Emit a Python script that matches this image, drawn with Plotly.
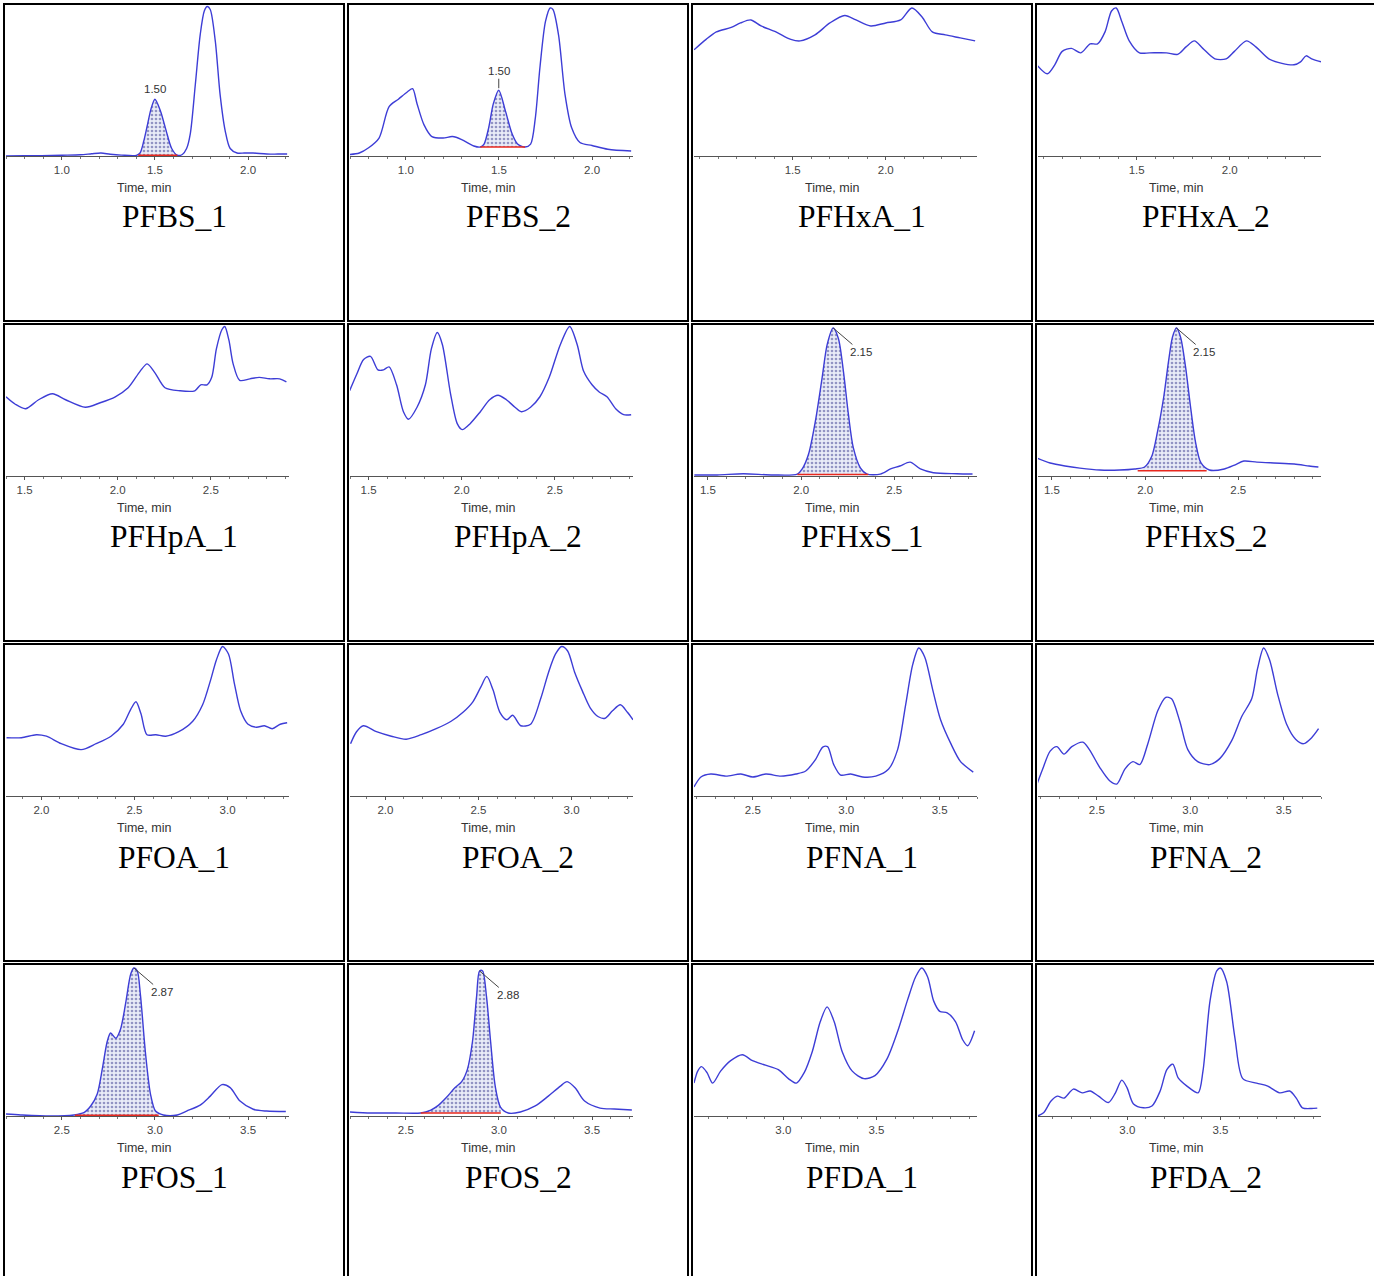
import numpy as np
import plotly.graph_objects as go

W, H = 1374, 1276

names = ["PFBS_1", "PFBS_2", "PFHxA_1", "PFHxA_2",
         "PFHpA_1", "PFHpA_2", "PFHxS_1", "PFHxS_2",
         "PFOA_1", "PFOA_2", "PFNA_1", "PFNA_2",
         "PFOS_1", "PFOS_2", "PFDA_1", "PFDA_2"]

# ---- chromatogram traces (time in min, relative intensity %) ----
pfbs_1_t = [0.70, 0.80, 0.89, 1.00, 1.10, 1.16, 1.21, 1.26, 1.32, 1.40, 1.42, 1.44, 1.46, 1.48, 1.50, 1.53, 1.56, 1.59, 1.62,
            1.647, 1.67, 1.69, 1.717, 1.743, 1.765, 1.781, 1.797, 1.824, 1.85, 1.877, 1.904, 1.941, 1.98, 2.027, 2.10, 2.16, 2.21]
pfbs_1_i = [0, 0.2, 0.2, 0.5, 0.8, 1.5, 2.0, 1.2, 0.6, 0.4, 2, 10, 21, 32, 38, 30, 17, 5, 0.5,
            1, 5, 15, 48, 81, 97, 100, 98, 77, 41, 17, 5, 2, 2, 2, 1.3, 1.3, 1.3]

pfbs_2_t = [0.697, 0.75, 0.80, 0.856, 0.91, 0.96, 1.009, 1.036, 1.06, 1.097, 1.14, 1.20, 1.25, 1.30, 1.365, 1.40, 1.42, 1.445,
            1.47, 1.499, 1.535, 1.57, 1.60, 1.64, 1.67, 1.695, 1.72, 1.75, 1.775, 1.79, 1.82, 1.855, 1.89, 1.935, 2.0, 2.085, 2.21]
pfbs_2_i = [1, 2, 5.5, 12, 33, 38, 43, 45, 35, 21, 13, 12, 13, 11, 6.7, 6, 8, 19,
            35, 44, 30, 15, 8, 6, 8, 25, 59, 90, 99, 98, 81, 41, 19, 9, 7, 4.5, 3.3]

pfhxa_1_t = [0.97, 1.035, 1.09, 1.17, 1.22, 1.275, 1.33, 1.41, 1.49, 1.54, 1.62, 1.70, 1.78, 1.84, 1.92, 2.0, 2.08, 2.14,
             2.195, 2.25, 2.32, 2.40, 2.48]
pfhxa_1_i = [71, 78, 83, 86, 89, 91, 87, 83, 78, 77, 81, 89, 94, 91, 87, 89, 91, 99,
             93, 83, 81, 79, 77]

pfhxa_2_t = [0.963, 1.02, 1.06, 1.10, 1.15, 1.20, 1.25, 1.29, 1.33, 1.365, 1.39, 1.42, 1.46, 1.515, 1.57, 1.66, 1.72,
             1.765, 1.81, 1.855, 1.92, 1.98, 2.025, 2.09, 2.14, 2.21, 2.28, 2.345, 2.38, 2.41, 2.44, 2.49]
pfhxa_2_i = [61, 55, 61, 70, 72, 69, 75, 75, 83, 97, 99, 90, 77, 69, 69, 69, 68,
             73, 77, 72, 65, 65, 70, 77, 73, 65, 62, 61, 63, 67, 65, 63]

pfhpa_1_t = [1.40, 1.45, 1.505, 1.575, 1.65, 1.72, 1.826, 1.906, 1.987, 2.056, 2.12, 2.158, 2.20, 2.254, 2.334, 2.414,
             2.446, 2.48, 2.505, 2.53, 2.56, 2.575, 2.597, 2.62, 2.655, 2.71, 2.76, 2.815, 2.87, 2.906]
pfhpa_1_i = [53, 48, 45, 51, 55, 51, 46, 49, 53, 59, 70, 75, 69, 59, 57, 57,
             61, 61, 66, 85, 98, 100, 91, 75, 64, 65, 66, 65, 65, 63]

pfhpa_2_t = [1.398, 1.436, 1.473, 1.51, 1.55, 1.58, 1.61, 1.65, 1.687, 1.714, 1.76, 1.805, 1.837, 1.869, 1.896, 1.94,
             1.976, 2.003, 2.045, 2.10, 2.15, 2.195, 2.24, 2.286, 2.32, 2.37, 2.42, 2.47, 2.53, 2.58, 2.62, 2.655,
             2.70, 2.74, 2.78, 2.827, 2.87, 2.91]
pfhpa_2_i = [57, 68, 78, 80, 71, 71, 73, 61, 43, 38, 46, 61, 85, 96, 88, 55,
             35, 31, 35, 43, 51, 54, 51, 46, 43, 46, 53, 66, 88, 100, 88, 70,
             61, 56, 53, 45, 41, 41]

pfhxs_1_t = [1.427, 1.55, 1.69, 1.85, 1.98, 2.006, 2.04, 2.077, 2.113, 2.14, 2.172, 2.20, 2.227, 2.254, 2.28, 2.318,
             2.354, 2.425, 2.48, 2.53, 2.585, 2.64, 2.71, 2.835, 2.92]
pfhxs_1_i = [0.7, 0.7, 1.5, 0.7, 1.3, 4.7, 14.7, 37, 66, 88, 99, 92, 70, 41, 19, 5.5,
             1.3, 1.3, 4.7, 6.7, 9.3, 4.7, 2.2, 1.5, 1.3]

pfhxs_2_t = [1.42, 1.49, 1.57, 1.65, 1.757, 1.864, 1.944, 1.997, 2.035, 2.067, 2.10, 2.126, 2.147, 2.168, 2.19, 2.217,
             2.243, 2.27, 2.30, 2.345, 2.425, 2.48, 2.53, 2.60, 2.69, 2.80, 2.88, 2.93]
pfhxs_2_i = [12, 8.7, 6.7, 5.3, 4, 4, 4.7, 6, 13, 30, 53, 77, 93, 99, 93, 73,
             47, 23, 8.7, 4, 4.7, 7.3, 10, 9.3, 8.7, 8, 6.7, 6]

pfoa_1_t = [1.813, 1.893, 1.973, 2.027, 2.107, 2.214, 2.294, 2.374, 2.44, 2.48, 2.508, 2.535, 2.567, 2.615, 2.668, 2.738,
            2.813, 2.866, 2.91, 2.94, 2.973, 3.005, 3.037, 3.07, 3.11, 3.155, 3.198, 3.24, 3.283, 3.32]
pfoa_1_i = [39, 39, 41, 40, 35, 31, 35, 40, 48, 58, 63, 55, 41, 41, 40, 43,
            50, 61, 78, 91, 100, 95, 75, 57, 48, 46, 47, 45, 48, 49]

pfoa_2_t = [1.813, 1.845, 1.882, 1.952, 2.032, 2.112, 2.193, 2.273, 2.353, 2.417, 2.47, 2.513, 2.545, 2.578, 2.615, 2.652,
            2.684, 2.727, 2.78, 2.834, 2.877, 2.914, 2.947, 2.979, 3.016, 3.059, 3.10, 3.144, 3.18, 3.22, 3.262, 3.30, 3.33]
pfoa_2_i = [35, 43, 47, 43, 40, 38, 41, 45, 50, 56, 63, 73, 80, 71, 56, 51,
            54, 47, 48, 65, 83, 95, 100, 97, 83, 70, 59, 53, 52, 57, 61, 56, 51]

pfna_1_t = [2.185, 2.222, 2.275, 2.356, 2.436, 2.50, 2.57, 2.65, 2.73, 2.783, 2.837, 2.874, 2.90, 2.933, 2.97, 3.024,
            3.088, 3.158, 3.227, 3.275, 3.318, 3.356, 3.388, 3.42, 3.463, 3.505, 3.56, 3.612, 3.68]
pfna_1_i = [6, 12.7, 14.7, 13.3, 14.7, 12.7, 14.7, 13.3, 14.7, 16.7, 24.7, 32.7, 33, 21, 14, 14.7,
            12.7, 13.3, 18, 31, 61, 88, 99, 93, 71, 51, 35, 23, 16]

pfna_2_t = [2.18, 2.21, 2.25, 2.286, 2.324, 2.366, 2.425, 2.46, 2.516, 2.57, 2.607, 2.65, 2.693, 2.73, 2.773, 2.826,
            2.869, 2.90, 2.944, 2.987, 3.04, 3.104, 3.158, 3.222, 3.275, 3.329, 3.36, 3.393, 3.425, 3.468, 3.516,
            3.564, 3.607, 3.65, 3.687]
pfna_2_i = [8, 18, 30, 33, 28, 33, 36, 31, 19, 10, 8, 18, 23, 21, 35, 57,
            66, 65, 50, 31, 23, 21, 25, 37, 53, 65, 85, 99, 91, 68, 48,
            38, 35, 39, 45]

pfos_1_t = [2.20, 2.28, 2.44, 2.565, 2.618, 2.655, 2.69, 2.718, 2.744, 2.762, 2.79, 2.815, 2.842, 2.87, 2.887, 2.905,
            2.922, 2.95, 2.976, 3.003, 3.045, 3.12, 3.17, 3.243, 3.297, 3.36, 3.404, 3.457, 3.528, 3.60, 3.703]
pfos_1_i = [1.3, 0.7, 0, 0.7, 2.2, 6.7, 14.7, 32, 50, 55.5, 52, 58, 75, 95, 99, 97,
            81, 41, 14.7, 3.3, 0.7, 0.7, 3.3, 7.3, 13.3, 21, 19, 10, 4.5, 3.3, 3]

pfos_2_t = [2.20, 2.313, 2.447, 2.58, 2.634, 2.676, 2.72, 2.762, 2.80, 2.83, 2.858, 2.88, 2.896, 2.912, 2.933, 2.955,
            2.98, 3.008, 3.05, 3.115, 3.195, 3.265, 3.33, 3.366, 3.41, 3.46, 3.543, 3.62, 3.714]
pfos_2_i = [2.7, 2, 2, 2, 4, 7.3, 12.7, 18.7, 23, 31, 50, 80, 97, 97, 80, 50,
            20, 6, 2, 2.7, 6.7, 13.3, 20, 23, 18.7, 10, 5.3, 4.7, 4]

pfda_1_t = [2.52, 2.54, 2.56, 2.59, 2.62, 2.663, 2.717, 2.78, 2.834, 2.904, 2.973, 3.027, 3.07, 3.112, 3.155, 3.198,
            3.235, 3.273, 3.316, 3.37, 3.433, 3.492, 3.556, 3.615, 3.668, 3.71, 3.743, 3.775, 3.807, 3.84, 3.88,
            3.925, 3.963, 3.99, 4.027]
pfda_1_i = [22, 30, 33, 29, 22, 30, 37, 41, 37, 34, 31, 25, 22, 29, 43, 63,
            73, 63, 43, 30, 25, 27, 38, 57, 78, 93, 99, 93, 77, 70, 69,
            63, 51, 47, 57]

pfda_2_t = [2.517, 2.55, 2.59, 2.624, 2.66, 2.71, 2.758, 2.80, 2.845, 2.898, 2.936, 2.97, 2.998, 3.033, 3.086, 3.132,
            3.176, 3.212, 3.244, 3.273, 3.32, 3.38, 3.406, 3.444, 3.48, 3.50, 3.533, 3.578, 3.62, 3.694, 3.754,
            3.818, 3.872, 3.907, 3.94, 3.988, 4.02]
pfda_2_i = [0, 2.2, 10, 13.3, 12, 18, 15.5, 16.7, 13.3, 9, 15.5, 24, 19, 8, 5.5, 6.7,
            16.7, 31, 34.7, 25.5, 20, 15.5, 30, 77, 97, 99, 90, 52, 25, 22, 20,
            15.5, 16.7, 12, 5.5, 5, 5.3]

series_t = [pfbs_1_t, pfbs_2_t, pfhxa_1_t, pfhxa_2_t, pfhpa_1_t, pfhpa_2_t, pfhxs_1_t, pfhxs_2_t,
            pfoa_1_t, pfoa_2_t, pfna_1_t, pfna_2_t, pfos_1_t, pfos_2_t, pfda_1_t, pfda_2_t]
series_i = [pfbs_1_i, pfbs_2_i, pfhxa_1_i, pfhxa_2_i, pfhpa_1_i, pfhpa_2_i, pfhxs_1_i, pfhxs_2_i,
            pfoa_1_i, pfoa_2_i, pfna_1_i, pfna_2_i, pfos_1_i, pfos_2_i, pfda_1_i, pfda_2_i]

# x-axis ranges (min) of each panel
x_ranges = [[0.70, 2.22], [0.70, 2.22], [0.97, 2.49], [0.97, 2.49],
            [1.40, 2.92], [1.40, 2.92], [1.425, 2.944], [1.425, 2.944],
            [1.81, 3.33], [1.81, 3.33], [2.185, 3.70], [2.185, 3.70],
            [2.20, 3.72], [2.20, 3.72], [2.52, 4.04], [2.52, 4.04]]

# labelled (major) ticks of each panel
tick_labels = [[1.0, 1.5, 2.0], [1.0, 1.5, 2.0], [1.5, 2.0], [1.5, 2.0],
               [1.5, 2.0, 2.5], [1.5, 2.0, 2.5], [1.5, 2.0, 2.5], [1.5, 2.0, 2.5],
               [2.0, 2.5, 3.0], [2.0, 2.5, 3.0], [2.5, 3.0, 3.5], [2.5, 3.0, 3.5],
               [2.5, 3.0, 3.5], [2.5, 3.0, 3.5], [3.0, 3.5], [3.0, 3.5]]

# integrated peaks: panel index -> (start, end, baseline level, label, label style)
peaks = {
    0: (1.41, 1.62, 0.5, "1.50", "above"),
    1: (1.40, 1.64, 6.0, "1.50", "tick"),
    6: (1.98, 2.36, 1.0, "2.15", "diag"),
    7: (1.96, 2.33, 3.5, "2.15", "diag"),
    12: (2.57, 3.02, 0.5, "2.87", "diag"),
    13: (2.58, 3.01, 2.0, "2.88", "diag"),
}

LINE = "#3d3dd6"
SANS = "Liberation Sans, Arial, sans-serif"


def px(x):
    return x / W


def py(y):
    return 1 - y / H


fig = go.Figure()
layout = dict(width=W, height=H, margin=dict(l=0, r=0, t=0, b=0),
              paper_bgcolor="white", plot_bgcolor="white", showlegend=False)
shapes, annotations = [], []

for k, name in enumerate(names):
    r, c = divmod(k, 4)
    L = 4 + 344 * c
    T = 4 + 320 * r
    sfx = "" if k == 0 else str(k + 1)
    xa, ya = "x" + sfx, "y" + sfx
    layout["xaxis" + sfx] = dict(
        domain=[px(L + 2), px(L + 285)], range=x_ranges[k], anchor=ya,
        showline=True, linecolor="#555", linewidth=1, ticks="outside", ticklen=3,
        tickwidth=1, tickcolor="#555", tickmode="array", tickvals=tick_labels[k],
        ticktext=["%.1f" % v for v in tick_labels[k]],
        tickfont=dict(family=SANS, size=11.5, color="#444"), showgrid=False,
        zeroline=False, fixedrange=True,
        minor=dict(ticks="outside", ticklen=2, dtick=0.1, tick0=0, tickcolor="#777", showgrid=False))
    layout["yaxis" + sfx] = dict(domain=[py(T + 152), py(T + 1)], range=[0, 101], anchor=xa,
                                 visible=False, fixedrange=True)

    t = np.array(series_t[k])
    inten = np.array(series_i[k])

    if k in peaks:
        t0, t1, base, lab, style = peaks[k]
        m = (t > t0) & (t < t1)
        ft = np.concatenate([[t0], t[m], [t1]])
        fi = np.concatenate([[base], inten[m], [base]])
        fig.add_trace(go.Scatter(x=[t0, t1], y=[base, base], mode="lines", line=dict(width=0),
                                 xaxis=xa, yaxis=ya, hoverinfo="skip"))
        fig.add_trace(go.Scatter(x=ft, y=fi, mode="lines", line=dict(width=0, shape="spline", smoothing=0.8),
                                 fill="tonexty", fillcolor="rgba(0,0,0,0)",
                                 fillpattern=dict(shape=".", fgcolor="#3b3b8f", bgcolor="#e9ecf7",
                                                  size=4, solidity=0.35),
                                 xaxis=xa, yaxis=ya, hoverinfo="skip"))

    fig.add_trace(go.Scatter(x=t, y=inten, mode="lines",
                             line=dict(color=LINE, width=1.4, shape="spline", smoothing=0.8),
                             xaxis=xa, yaxis=ya, hoverinfo="skip"))

    if k in peaks:
        fig.add_trace(go.Scatter(x=[t0, t1], y=[base, base], mode="lines",
                                 line=dict(color="#e8281e", width=1.6), xaxis=xa, yaxis=ya, hoverinfo="skip"))
        j = int(np.argmax(np.where(m, inten, -1)))
        ann = dict(x=t[j], y=inten[j], xref=xa, yref=ya, text=lab,
                   font=dict(family=SANS, size=11.5, color="#333"))
        if style == "above":
            ann.update(showarrow=False, yanchor="bottom", yshift=2)
        elif style == "tick":
            ann.update(showarrow=True, arrowhead=0, arrowwidth=1, arrowcolor="#444",
                       ax=0, ay=-19, standoff=2)
        else:
            ann.update(showarrow=True, arrowhead=0, arrowwidth=1, arrowcolor="#444",
                       ax=28, ay=24, standoff=0)
        annotations.append(ann)

    annotations.append(dict(x=px(L + 140), y=py(T + 184), xref="paper", yref="paper",
                            text="Time, min", showarrow=False, xanchor="center", yanchor="middle",
                            font=dict(family=SANS, size=12.5, color="#333")))
    annotations.append(dict(x=px(L + 170), y=py(T + 213), xref="paper", yref="paper",
                            text=name, showarrow=False, xanchor="center", yanchor="middle",
                            font=dict(family="Liberation Serif, Times New Roman, serif", size=31.5,
                                      color="black")))
    shapes.append(dict(type="rect", xref="paper", yref="paper",
                       x0=px(L), x1=px(L + 340), y0=py(T + 317), y1=py(T),
                       line=dict(color="black", width=2), fillcolor="rgba(0,0,0,0)"))

layout["shapes"] = shapes
layout["annotations"] = annotations
fig.update_layout(**layout)
fig.write_html("out.html", config={"displayModeBar": False},
               post_script="document.body.style.margin='0';document.body.style.padding='0';")
